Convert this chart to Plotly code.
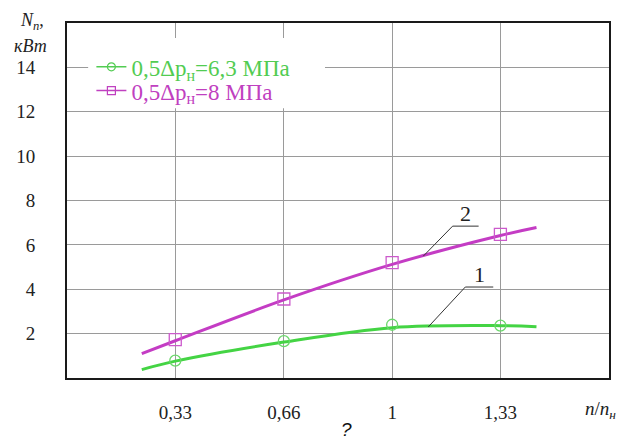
import numpy as np
import plotly.graph_objects as go

# ---- data ----
x_ticks = [0.333, 0.667, 1.0, 1.333]
x_ticktext = ["0,33", "0,66", "1", "1,33"]
y_ticks = [2, 4, 6, 8, 10, 12, 14]

# measured points (markers)
x_pts = [0.333, 0.667, 1.0, 1.333]
n1_pts = [0.78, 1.66, 2.40, 2.36]     # 0,5Δp = 6,3 MPa (curve 1, green)
n2_pts = [1.73, 3.56, 5.20, 6.47]     # 0,5Δp = 8 MPa (curve 2, magenta)

# fitted curves
x_curve = [0.230, 0.333, 0.667, 1.0, 1.333, 1.444]
n1_curve = [0.38, 0.76, 1.62, 2.27, 2.36, 2.31]
n2_curve = [1.10, 1.68, 3.52, 5.12, 6.42, 6.78]

name1 = "0,5Δp<sub>н</sub>=6,3 МПа"
name2 = "0,5Δp<sub>н</sub>=8 МПа"

GREEN = "#44d444"
MAG = "#c43cc4"
GREEN_T = "#52cc52"
MAG_T = "#c040c0"
SERIF = "Liberation Serif"

fig = go.Figure()

# legend-only entries (two separate legends for exact line placement)
fig.add_trace(go.Scatter(x=[None], y=[None], mode="lines+markers", legend="legend",
                         name=f"<span style='color:{GREEN_T}'>{name1}</span>",
                         line=dict(color=GREEN_T, width=1.5),
                         marker=dict(symbol="circle-open", size=8, color=GREEN_T, line=dict(width=1.2))))
fig.add_trace(go.Scatter(x=[None], y=[None], mode="lines+markers", legend="legend2",
                         name=f"<span style='color:{MAG_T}'>{name2}</span>",
                         line=dict(color=MAG_T, width=1.5),
                         marker=dict(symbol="square-open", size=8, color=MAG_T, line=dict(width=1.2))))

# curves
fig.add_trace(go.Scatter(x=x_curve, y=n1_curve, mode="lines", line_shape="spline",
                         line=dict(color=GREEN, width=3), showlegend=False))
fig.add_trace(go.Scatter(x=x_curve, y=n2_curve, mode="lines", line_shape="spline",
                         line=dict(color=MAG, width=3), showlegend=False))
# markers
fig.add_trace(go.Scatter(x=x_pts, y=n1_pts, mode="markers", showlegend=False,
                         marker=dict(symbol="circle-open", size=11, color="#6ad86a", line=dict(width=1.3))))
fig.add_trace(go.Scatter(x=x_pts, y=n2_pts, mode="markers", showlegend=False,
                         marker=dict(symbol="square-open", size=12, color="#cc5acc", line=dict(width=1.3))))

# white backing box of the legend (covers the grid behind it)
shapes = [dict(type="rect", xref="paper", yref="paper", x0=0.039, x1=0.476, y0=0.76, y1=0.958,
               fillcolor="white", line=dict(width=0), layer="above")]
annotations = []
# leader lines with labels, anchored on the curves
for lab, xa, dx, dy, hl, xc, yc in [("2", 1.096, 0.09, 1.35, 0.08, x_curve, n2_curve),
                                     ("1", 1.111, 0.114, 1.8, 0.086, x_curve, n1_curve)]:
    ya = float(np.interp(xa, xc, yc))
    xe, ye = xa + dx, ya + dy
    xf = xe + hl
    shapes.append(dict(type="path", xref="x", yref="y",
                       path=f"M {xa},{ya} L {xe},{ye} L {xf},{ye}",
                       line=dict(color="#333333", width=1)))
    annotations.append(dict(x=(xe + xf) / 2, y=ye, xref="x", yref="y", text=lab,
                            showarrow=False, xanchor="center", yanchor="bottom", yshift=-2,
                            font=dict(family=SERIF, size=22, color="#222")))

annotations += [
    dict(x=-0.065, y=1.005, xref="paper", yref="paper", text="<i>N</i><sub><i>п</i></sub>,",
         showarrow=False, xanchor="center", yanchor="middle",
         font=dict(family=SERIF, size=18, color="#222")),
    dict(x=-0.068, y=0.935, xref="paper", yref="paper", text="<i>кВт</i>",
         showarrow=False, xanchor="center", yanchor="middle",
         font=dict(family=SERIF, size=18, color="#222")),
    dict(x=0.952, y=-0.09, xref="paper", yref="paper", text="<i>n</i>/<i>n</i><sub><i>н</i></sub>",
         showarrow=False, xanchor="left", yanchor="middle",
         font=dict(family=SERIF, size=19, color="#222")),
    dict(x=0.5166, y=-0.146, xref="paper", yref="paper", text="<i>?</i>",
         showarrow=False, xanchor="center", yanchor="middle",
         font=dict(family="Liberation Sans", size=19, color="#111")),
]

leg_common = dict(xanchor="left", yanchor="top", bgcolor="rgba(0,0,0,0)",
                  font=dict(family=SERIF, size=23), itemwidth=30)
fig.update_layout(
    width=626, height=439, autosize=False,
    margin=dict(l=67, r=17, t=23, b=61),
    paper_bgcolor="white", plot_bgcolor="white",
    font=dict(family=SERIF, size=18, color="#222"),
    shapes=shapes, annotations=annotations,
    legend=dict(x=0.045, y=0.937, **leg_common),
    legend2=dict(x=0.045, y=0.870, **leg_common),
)
fig.update_xaxes(range=[0, 1.667], tickvals=x_ticks, ticktext=x_ticktext,
                 showgrid=True, gridcolor="#9a9a9a", gridwidth=1.2, zeroline=False,
                 showline=True, mirror=True, linecolor="#1a1a1a", linewidth=2,
                 ticks="", ticklabelstandoff=16, tickfont=dict(size=19))
fig.update_yaxes(range=[0, 16], tickvals=y_ticks,
                 showgrid=True, gridcolor="#9a9a9a", gridwidth=1.2, zeroline=False,
                 showline=True, mirror=True, linecolor="#1a1a1a", linewidth=2,
                 ticks="", ticklabelstandoff=26, tickfont=dict(size=19))

fig.write_html("out.html")
